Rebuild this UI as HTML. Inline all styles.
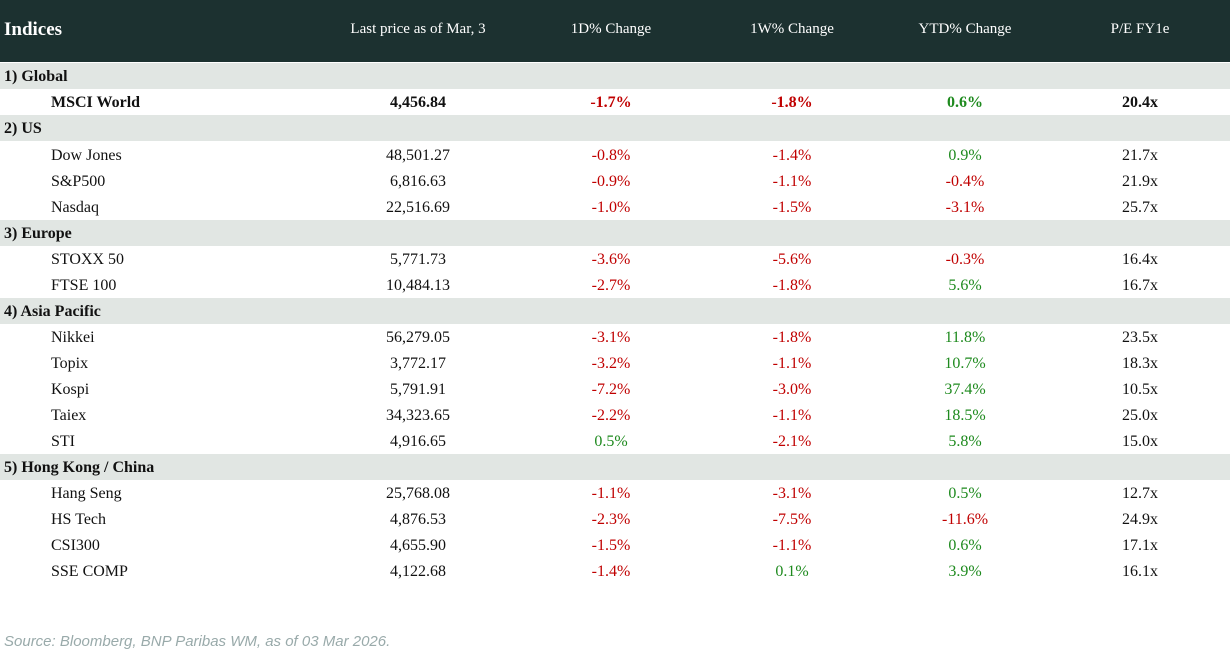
<!DOCTYPE html>
<html><head><style>
body{margin:0;width:1230px;height:657px;background:#fff;font-family:"Liberation Serif",serif;font-size:16px;color:#111;position:relative;overflow:hidden}
.hd{position:absolute;left:0;top:0;width:1230px;height:62px;background:#1c3130;color:#fff}
.hd div{position:absolute;top:21px;font-size:15px}
.row{position:absolute;left:0;width:1230px;height:26px;line-height:26px}
.row>*{}
.g{background:#e1e6e3;font-weight:bold;box-sizing:border-box;padding-top:1px;line-height:25px}
.row span{position:absolute;top:1px;text-align:center;width:200px}
.n{left:51px!important;text-align:left!important}
.c1{left:318px}.c2{left:511px}.c3{left:692px}.c4{left:865px}.c5{left:1040px}
.r{color:#c00000}.gr{color:#1e8a1e}
.b{font-weight:bold}
.src{position:absolute;left:4px;top:633px;color:#9aa;font-style:italic;font-family:"Liberation Sans",sans-serif;font-size:15px}
</style></head><body>
<div class="hd">
<div style="left:4px;top:19px;font-size:19px;font-weight:bold">Indices</div>
<div style="left:318px;width:200px;text-align:center">Last price as of Mar, 3</div>
<div style="left:511px;width:200px;text-align:center">1D% Change</div>
<div style="left:692px;width:200px;text-align:center">1W% Change</div>
<div style="left:865px;width:200px;text-align:center">YTD% Change</div>
<div style="left:1040px;width:200px;text-align:center">P/E FY1e</div>
</div>
<div class="row g" style="top:63px;padding-left:4px">1) Global</div>
<div class="row b" style="top:89px"><span class="n">MSCI World</span><span class="c1">4,456.84</span><span class="c2 r">-1.7%</span><span class="c3 r">-1.8%</span><span class="c4 gr">0.6%</span><span class="c5">20.4x</span></div>
<div class="row g" style="top:115px;padding-left:4px">2) US</div>
<div class="row" style="top:142px"><span class="n">Dow Jones</span><span class="c1">48,501.27</span><span class="c2 r">-0.8%</span><span class="c3 r">-1.4%</span><span class="c4 gr">0.9%</span><span class="c5">21.7x</span></div>
<div class="row" style="top:168px"><span class="n">S&amp;P500</span><span class="c1">6,816.63</span><span class="c2 r">-0.9%</span><span class="c3 r">-1.1%</span><span class="c4 r">-0.4%</span><span class="c5">21.9x</span></div>
<div class="row" style="top:194px"><span class="n">Nasdaq</span><span class="c1">22,516.69</span><span class="c2 r">-1.0%</span><span class="c3 r">-1.5%</span><span class="c4 r">-3.1%</span><span class="c5">25.7x</span></div>
<div class="row g" style="top:220px;padding-left:4px">3) Europe</div>
<div class="row" style="top:246px"><span class="n">STOXX 50</span><span class="c1">5,771.73</span><span class="c2 r">-3.6%</span><span class="c3 r">-5.6%</span><span class="c4 r">-0.3%</span><span class="c5">16.4x</span></div>
<div class="row" style="top:272px"><span class="n">FTSE 100</span><span class="c1">10,484.13</span><span class="c2 r">-2.7%</span><span class="c3 r">-1.8%</span><span class="c4 gr">5.6%</span><span class="c5">16.7x</span></div>
<div class="row g" style="top:298px;padding-left:4px">4) Asia Pacific</div>
<div class="row" style="top:324px"><span class="n">Nikkei</span><span class="c1">56,279.05</span><span class="c2 r">-3.1%</span><span class="c3 r">-1.8%</span><span class="c4 gr">11.8%</span><span class="c5">23.5x</span></div>
<div class="row" style="top:350px"><span class="n">Topix</span><span class="c1">3,772.17</span><span class="c2 r">-3.2%</span><span class="c3 r">-1.1%</span><span class="c4 gr">10.7%</span><span class="c5">18.3x</span></div>
<div class="row" style="top:376px"><span class="n">Kospi</span><span class="c1">5,791.91</span><span class="c2 r">-7.2%</span><span class="c3 r">-3.0%</span><span class="c4 gr">37.4%</span><span class="c5">10.5x</span></div>
<div class="row" style="top:402px"><span class="n">Taiex</span><span class="c1">34,323.65</span><span class="c2 r">-2.2%</span><span class="c3 r">-1.1%</span><span class="c4 gr">18.5%</span><span class="c5">25.0x</span></div>
<div class="row" style="top:428px"><span class="n">STI</span><span class="c1">4,916.65</span><span class="c2 gr">0.5%</span><span class="c3 r">-2.1%</span><span class="c4 gr">5.8%</span><span class="c5">15.0x</span></div>
<div class="row g" style="top:454px;padding-left:4px">5) Hong Kong / China</div>
<div class="row" style="top:480px"><span class="n">Hang Seng</span><span class="c1">25,768.08</span><span class="c2 r">-1.1%</span><span class="c3 r">-3.1%</span><span class="c4 gr">0.5%</span><span class="c5">12.7x</span></div>
<div class="row" style="top:506px"><span class="n">HS Tech</span><span class="c1">4,876.53</span><span class="c2 r">-2.3%</span><span class="c3 r">-7.5%</span><span class="c4 r">-11.6%</span><span class="c5">24.9x</span></div>
<div class="row" style="top:532px"><span class="n">CSI300</span><span class="c1">4,655.90</span><span class="c2 r">-1.5%</span><span class="c3 r">-1.1%</span><span class="c4 gr">0.6%</span><span class="c5">17.1x</span></div>
<div class="row" style="top:558px"><span class="n">SSE COMP</span><span class="c1">4,122.68</span><span class="c2 r">-1.4%</span><span class="c3 gr">0.1%</span><span class="c4 gr">3.9%</span><span class="c5">16.1x</span></div>
<div class="src">Source: Bloomberg, BNP Paribas WM, as of 03 Mar 2026.</div>
</body></html>
